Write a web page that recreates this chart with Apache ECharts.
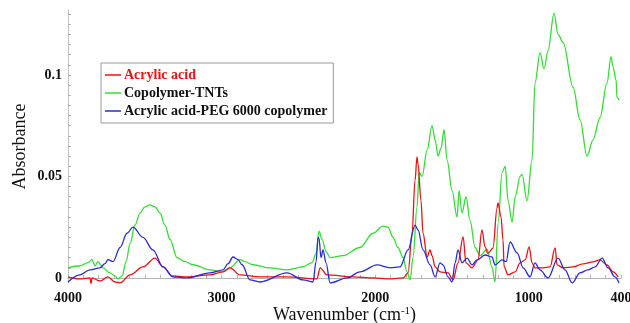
<!DOCTYPE html>
<html>
<head>
<meta charset="utf-8">
<script src="https://cdn.jsdelivr.net/npm/echarts@6/dist/echarts.min.js"></script>
<style>
  html, body { margin: 0; padding: 0; background: #fff; }
  #chart { width: 630px; height: 323px; }
</style>
</head>
<body>
<div id="chart"></div>
<script>
// tick labels
const xLabels = [4000, 3000, 2000, 1000, 400];
const yLabels = [0, 0.05, 0.1];

// Acrylic acid
const acidWn = [4000, 3922, 3857, 3850, 3844, 3792, 3740, 3694, 3661, 3596, 3512, 3434, 3381, 3323, 3225, 3076, 2991, 2945, 2880, 2750, 2574, 2379, 2359, 2313, 2144, 2014, 1903, 1818, 1786, 1760, 1741, 1728, 1721, 1702, 1689, 1662, 1643, 1630, 1610, 1578, 1526, 1493, 1461, 1428, 1409, 1370, 1331, 1305, 1285, 1266, 1233, 1207, 1201, 1181, 1168, 1161, 1135, 1089, 1057, 1024, 998, 979, 960, 908, 862, 829, 816, 777, 712, 647, 582, 537, 491, 452, 419];
const acidAbs = [0.0005, -0.0005, 0.0, -0.003, 0.0, -0.0015, 0.0005, -0.002, -0.0025, 0.0015, 0.0054, 0.0098, 0.0054, 0.001, 0.0005, 0.0015, 0.003, 0.005, 0.0015, 0.0005, 0.0005, -0.0005, 0.005, 0.0015, 0.0005, 0.0, -0.0005, 0.0, 0.0025, 0.022, 0.048, 0.0596, 0.056, 0.038, 0.022, 0.0103, 0.0138, 0.011, 0.0054, 0.003, 0.0025, -0.001, 0.0074, 0.0202, 0.0074, 0.005, 0.0089, 0.0236, 0.0153, 0.012, 0.0148, 0.0345, 0.037, 0.030, 0.0187, 0.0054, 0.0015, 0.003, 0.0074, 0.0089, 0.0153, 0.0074, 0.005, 0.005, 0.0054, 0.0148, 0.0064, 0.005, 0.0054, 0.0069, 0.0079, 0.0089, 0.0064, 0.003, 0.0005];

// Copolymer-TNTs
const tntWn = [4000, 3922, 3870, 3844, 3824, 3805, 3772, 3727, 3694, 3675, 3648, 3622, 3596, 3564, 3531, 3499, 3466, 3434, 3401, 3369, 3336, 3290, 3238, 3186, 3076, 2997, 2945, 2880, 2848, 2796, 2685, 2574, 2470, 2411, 2385, 2366, 2346, 2320, 2294, 2209, 2099, 2014, 1949, 1917, 1884, 1852, 1819, 1793, 1773, 1754, 1728, 1714, 1695, 1662, 1630, 1610, 1591, 1571, 1552, 1532, 1500, 1467, 1454, 1435, 1409, 1383, 1350, 1318, 1272, 1240, 1220, 1200, 1174, 1154, 1135, 1109, 1089, 1057, 1044, 1012, 979, 960, 927, 901, 875, 836, 810, 777, 712, 667, 621, 582, 537, 491, 465, 452, 432, 426, 413];
const tntAbs = [0.005, 0.006, 0.0075, 0.009, 0.006, 0.008, 0.005, 0.0025, 0.001, -0.0005, 0.001, 0.008, 0.017, 0.026, 0.032, 0.035, 0.036, 0.035, 0.032, 0.026, 0.019, 0.010, 0.008, 0.0065, 0.004, 0.003, 0.005, 0.009, 0.008, 0.0065, 0.005, 0.004, 0.0055, 0.0075, 0.012, 0.023, 0.019, 0.013, 0.010, 0.011, 0.015, 0.022, 0.0255, 0.025, 0.020, 0.015, 0.010, 0.003, -0.001, 0.010, 0.035, 0.052, 0.050, 0.063, 0.075, 0.068, 0.060, 0.064, 0.073, 0.058, 0.043, 0.030, 0.043, 0.032, 0.040, 0.0285, 0.015, 0.011, 0.014, 0.0054, -0.002, 0.027, 0.052, 0.055, 0.038, 0.0275, 0.040, 0.050, 0.051, 0.038, 0.058, 0.096, 0.111, 0.103, 0.112, 0.1305, 0.120, 0.116, 0.094, 0.078, 0.060, 0.068, 0.079, 0.096, 0.109, 0.104, 0.0975, 0.089, 0.0877];

// Acrylic acid-PEG 6000 copolymer
const pegWn = [4000, 3922, 3857, 3792, 3759, 3740, 3707, 3661, 3616, 3577, 3512, 3447, 3381, 3316, 3225, 3076, 2991, 2958, 2926, 2893, 2867, 2815, 2750, 2574, 2470, 2405, 2385, 2372, 2366, 2353, 2340, 2320, 2294, 2183, 2099, 1988, 1903, 1839, 1786, 1741, 1721, 1689, 1643, 1610, 1578, 1559, 1526, 1500, 1480, 1461, 1435, 1402, 1370, 1337, 1285, 1240, 1220, 1174, 1148, 1122, 1076, 1037, 992, 960, 927, 875, 810, 764, 718, 667, 615, 569, 523, 484, 439, 413];
const pegAbs = [-0.002, 0.0015, 0.004, 0.005, 0.007, 0.009, 0.008, 0.015, 0.022, 0.025, 0.020, 0.0138, 0.0054, 0.0005, 0.0, 0.0025, 0.004, 0.007, 0.0103, 0.009, 0.0065, -0.001, -0.002, 0.0025, -0.001, -0.002, 0.008, 0.020, 0.0195, 0.010, 0.0138, 0.0074, -0.0025, 0.0, 0.003, 0.0064, 0.005, 0.0054, 0.0138, 0.026, 0.0236, 0.0138, 0.0064, 0.0005, 0.0074, 0.0064, 0.0005, -0.002, 0.0074, 0.0138, 0.0074, 0.0098, 0.0064, 0.0089, 0.0113, 0.0103, 0.0064, 0.0089, 0.008, 0.0177, 0.0123, 0.005, 0.0005, 0.0074, 0.004, 0.0, 0.0098, 0.004, -0.0025, 0.0025, 0.004, 0.0054, 0.0098, 0.005, 0.0005, -0.0025];

const zip = (xs, ys) => xs.map((x, i) => [x, ys[i]]);

const minorX = [];
for (let w = 400; w <= 4000; w += 100) minorX.push(w);
const minorY = [];
for (let k = 0; k <= 26; k++) minorY.push(+(k * 0.005).toFixed(3));

const serif = '"Liberation Serif", "Times New Roman", serif';
const axisGray = '#b4b4b4';

const lineSeries = (name, color, wn, abs, z) => ({
    name: name,
    type: 'line',
    showSymbol: false,
    symbol: 'none',
    smooth: 0.35,
    smoothMonotone: 'x',
    color: color,
    lineStyle: { width: 1.3 },
    z: z,
    data: zip(wn, abs)
});

const chart = echarts.init(document.getElementById('chart'));
chart.setOption({
    animation: false,
    backgroundColor: '#fff',
    grid: { left: 68, right: 9, top: 10, bottom: 40, outerBoundsMode: 'none' },
    legend: {
        orient: 'vertical',
        left: 101,
        top: 63,
        padding: [5, 6, 5, 4],
        itemGap: 4,
        itemWidth: 16,
        itemHeight: 1.5,
        icon: 'rect',
        borderColor: '#999',
        borderWidth: 1,
        textStyle: { fontFamily: serif, fontWeight: 'bold', fontSize: 14, color: '#111', padding: [0, 0, 0, -2] },
        data: [
            { name: 'Acrylic acid', textStyle: { color: '#ee1111' } },
            { name: 'Copolymer-TNTs' },
            { name: 'Acrylic acid-PEG 6000 copolymer' }
        ]
    },
    xAxis: {
        type: 'value',
        inverse: true,
        min: 400,
        max: 4000,
        name: 'Wavenumber (cm{sup|-1})',
        nameLocation: 'middle',
        nameGap: 23,
        nameMoveOverlap: false,
        nameTextStyle: {
            fontFamily: serif, fontSize: 18, color: '#111',
            rich: { sup: { fontFamily: serif, fontSize: 11, verticalAlign: 'top', padding: [0, 0, 8, 0], color: '#111' } }
        },
        axisLine: { lineStyle: { color: axisGray, width: 1 } },
        axisTick: { show: true, inside: true, length: 3, customValues: minorX, lineStyle: { color: axisGray } },
        splitLine: { show: false },
        axisLabel: {
            customValues: xLabels,
            margin: 8,
            formatter: v => String(v),
            fontFamily: serif, fontWeight: 'bold', fontSize: 14, color: '#111'
        }
    },
    yAxis: {
        type: 'value',
        min: -0.0025,
        max: 0.132,
        name: 'Absorbance',
        nameLocation: 'middle',
        nameGap: 39,
        nameMoveOverlap: false,
        nameTextStyle: { fontFamily: serif, fontSize: 18, color: '#111' },
        axisLine: { show: true, lineStyle: { color: axisGray, width: 1, type: 'dotted' } },
        axisTick: { show: true, inside: true, length: 3, customValues: minorY, lineStyle: { color: axisGray } },
        splitLine: { show: false },
        axisLabel: {
            customValues: yLabels,
            margin: 6,
            formatter: v => String(v),
            fontFamily: serif, fontWeight: 'bold', fontSize: 14, color: '#111'
        }
    },
    series: [
        lineSeries('Acrylic acid', '#ee1111', acidWn, acidAbs, 3),
        lineSeries('Copolymer-TNTs', '#33dd33', tntWn, tntAbs, 2),
        lineSeries('Acrylic acid-PEG 6000 copolymer', '#2b2bd6', pegWn, pegAbs, 4)
    ]
});
</script>
</body>
</html>
